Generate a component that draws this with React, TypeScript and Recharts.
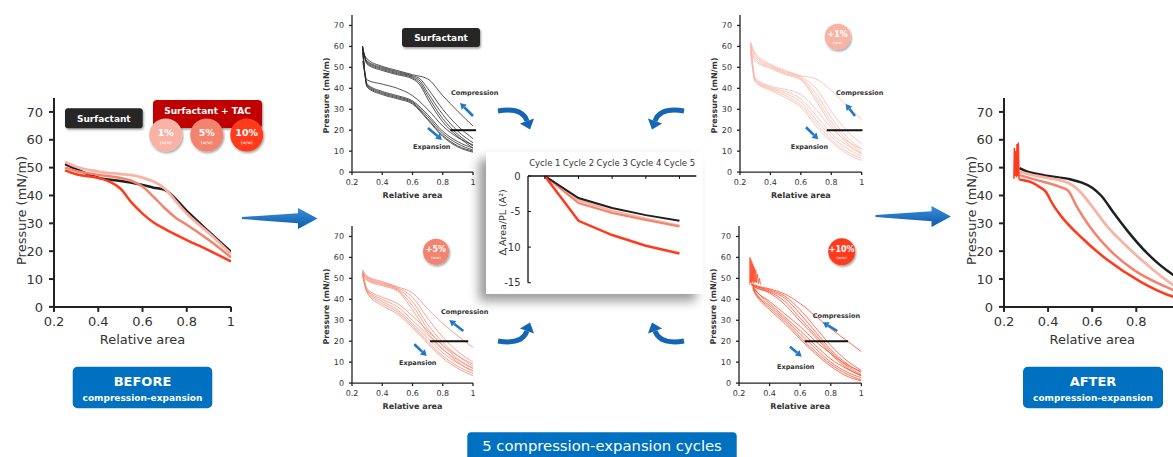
import React from 'react';
import { LineChart, Line, XAxis, YAxis, ReferenceLine, Label } from 'recharts';

type Pt = [number, number];

// ── colours ───────────────────────────────────────────────────────────────────
const C_SURF = '#1f1f1f';
const C_TAC1 = '#F8B3A5';
const C_TAC5 = '#F3836E';
const C_TAC10 = '#FF3B1D';
const BLUE = '#0070C0';

// ── BEFORE compression-expansion (relative area, pressure mN/m) ─────────────
const surfBefore: Pt[] = [[0.25, 51.3], [0.3, 49.5], [0.35, 47.8], [0.4, 46.4], [0.5, 45.2], [0.6, 43.8], [0.65, 42.8], [0.7, 42], [0.8, 34.5], [0.9, 27], [1, 19.8]];
const tac1Before: Pt[] = [[0.25, 52], [0.3, 50.3], [0.4, 48.6], [0.5, 47.7], [0.55, 47.3], [0.6, 46.4], [0.65, 45], [0.7, 42.5], [0.75, 38], [0.8, 33.5], [0.9, 26.5], [1, 19]];
const tac5Before: Pt[] = [[0.25, 50], [0.3, 48.8], [0.4, 47.4], [0.5, 46.3], [0.55, 45.3], [0.6, 43.2], [0.65, 39.5], [0.7, 35.5], [0.75, 32], [0.8, 29.5], [0.9, 24], [1, 17.8]];
const tac10Before: Pt[] = [[0.25, 49], [0.3, 47.6], [0.4, 46.3], [0.45, 45], [0.5, 42.5], [0.55, 37.5], [0.6, 33.5], [0.65, 30.3], [0.7, 28], [0.8, 24], [0.9, 20.3], [1, 16.3]];

// ── AFTER compression-expansion ──────────────────────────────────────────────
const surfAfter: Pt[] = [[0.27, 49.8], [0.3, 48.7], [0.38, 47.3], [0.5, 45.8], [0.55, 44.7], [0.6, 42.8], [0.64, 40], [0.7, 33.5], [0.76, 27.3], [0.85, 19.2], [0.97, 11.4], [1, 10]];
const tac1After: Pt[] = [[0.27, 48.5], [0.35, 47], [0.45, 45.5], [0.5, 44.2], [0.53, 42.5], [0.56, 40], [0.6, 36], [0.67, 28.7], [0.76, 21.5], [0.86, 14.4], [0.97, 7.8], [1, 6.5]];
const tac5After: Pt[] = [[0.27, 47.3], [0.35, 45.5], [0.45, 43.2], [0.49, 41.8], [0.53, 36], [0.59, 28.7], [0.68, 20.4], [0.79, 13.2], [0.9, 8.4], [1, 5]];
const tac10After: Pt[] = [[0.27, 45.7], [0.33, 44.5], [0.36, 43.1], [0.39, 41.3], [0.42, 37], [0.46, 32.5], [0.55, 25], [0.67, 16.8], [0.82, 9], [0.97, 3.6], [1, 3]];
const tac10AfterSpike: Pt[] = [[0.245, 46], [0.247, 57], [0.25, 47], [0.253, 56], [0.256, 46.5], [0.259, 58.5], [0.262, 47], [0.265, 59], [0.268, 46], [0.27, 45.7]];

// ── 5 cycles, compression (C) and expansion (E) branches ─────────────────────
const surfLoops: Pt[][] = [
  [[0.27, 58], [0.3, 54], [0.4, 50.5], [0.5, 48.5], [0.6, 46.5], [0.7, 44.5], [0.8, 36.5], [0.9, 29], [1, 22]],
  [[0.27, 57], [0.3, 53], [0.4, 50], [0.5, 48], [0.6, 46], [0.65, 44.5], [0.7, 40], [0.8, 30], [0.9, 22], [1, 16]],
  [[0.27, 59], [0.3, 52.5], [0.4, 49.5], [0.5, 47.5], [0.6, 45.5], [0.65, 43.5], [0.7, 38], [0.8, 27.5], [0.9, 19.5], [1, 14]],
  [[0.27, 60], [0.3, 52], [0.4, 49], [0.5, 47], [0.6, 45], [0.65, 42.5], [0.7, 36.5], [0.8, 25.5], [0.9, 18], [1, 12.5]],
  [[0.27, 60], [0.3, 51.5], [0.4, 48.5], [0.5, 46.5], [0.6, 44.5], [0.65, 41.5], [0.7, 35], [0.8, 24], [0.9, 17], [1, 11.5]],
  [[0.27, 53], [0.3, 44], [0.4, 42], [0.5, 40], [0.6, 36.5], [0.7, 30], [0.8, 22], [0.9, 16.5], [1, 13]],
  [[0.27, 57], [0.3, 42], [0.4, 38.5], [0.5, 36.5], [0.6, 34], [0.7, 27.5], [0.8, 19.5], [0.9, 14.5], [1, 11.5]],
  [[0.27, 59], [0.3, 41.5], [0.4, 38], [0.5, 36], [0.6, 33.5], [0.7, 26.5], [0.8, 18.5], [0.9, 13.5], [1, 10.5]],
  [[0.27, 60], [0.3, 41], [0.4, 37.5], [0.5, 35.5], [0.6, 33], [0.7, 25.5], [0.8, 17.5], [0.9, 12.5], [1, 10]],
  [[0.27, 60], [0.3, 40.5], [0.4, 37], [0.5, 35], [0.6, 32.5], [0.7, 25], [0.8, 17], [0.9, 12], [1, 9.5]],
];

const tac1Loops: Pt[][] = [
  [[0.27, 62], [0.3, 57], [0.4, 51.5], [0.5, 48.5], [0.6, 46], [0.7, 44.5], [0.8, 39], [0.9, 32], [1, 25]],
  [[0.27, 61], [0.3, 56], [0.4, 51], [0.5, 48], [0.6, 45.5], [0.7, 40], [0.8, 29], [0.9, 20], [1, 13.5]],
  [[0.27, 60], [0.3, 55], [0.4, 50.5], [0.5, 47.5], [0.6, 45], [0.7, 37.5], [0.8, 26], [0.9, 17], [1, 11]],
  [[0.27, 58], [0.3, 54], [0.4, 50], [0.5, 47], [0.6, 44.5], [0.7, 35.5], [0.8, 24], [0.9, 15.5], [1, 9.5]],
  [[0.27, 57], [0.3, 53], [0.4, 49.5], [0.5, 46.5], [0.6, 44], [0.7, 34], [0.8, 22.5], [0.9, 14], [1, 8.5]],
  [[0.27, 62], [0.3, 45], [0.4, 41], [0.5, 39.5], [0.6, 37], [0.7, 30], [0.8, 21], [0.9, 15], [1, 11]],
  [[0.27, 61], [0.3, 44.5], [0.4, 40.5], [0.5, 38.5], [0.6, 35], [0.7, 27], [0.8, 18.5], [0.9, 13], [1, 9]],
  [[0.27, 60], [0.3, 44], [0.4, 40], [0.5, 37.5], [0.6, 33.5], [0.7, 25], [0.8, 17], [0.9, 11.5], [1, 7.5]],
  [[0.27, 58], [0.3, 43.5], [0.4, 39.5], [0.5, 36.5], [0.6, 32], [0.7, 23.5], [0.8, 15.5], [0.9, 10], [1, 6.5]],
  [[0.27, 57], [0.3, 43], [0.4, 39], [0.5, 35.5], [0.6, 31], [0.7, 22], [0.8, 14.5], [0.9, 9], [1, 5.5]],
];

const tac5Loops: Pt[][] = [
  [[0.27, 54], [0.3, 51], [0.4, 48.5], [0.5, 46], [0.6, 43], [0.7, 35.5], [0.8, 28.5], [0.9, 22.5], [1, 17]],
  [[0.27, 53], [0.3, 50.5], [0.4, 48], [0.5, 45.5], [0.6, 41], [0.7, 31], [0.8, 22], [0.9, 15], [1, 10]],
  [[0.27, 52.5], [0.3, 50], [0.4, 47.5], [0.5, 45], [0.6, 39], [0.7, 28], [0.8, 19.5], [0.9, 13], [1, 8]],
  [[0.27, 52], [0.3, 49.5], [0.4, 47], [0.5, 44.5], [0.6, 37], [0.7, 26], [0.8, 18], [0.9, 11.5], [1, 7]],
  [[0.27, 51.5], [0.3, 49], [0.4, 46.5], [0.5, 44], [0.6, 35], [0.7, 24], [0.8, 16.5], [0.9, 10], [1, 6]],
  [[0.27, 54], [0.3, 45], [0.4, 41], [0.5, 38], [0.6, 32], [0.7, 25], [0.8, 18], [0.9, 13], [1, 9]],
  [[0.27, 53], [0.3, 44.5], [0.4, 40], [0.5, 36.5], [0.6, 30], [0.7, 23], [0.8, 16], [0.9, 11], [1, 7]],
  [[0.27, 52.5], [0.3, 44], [0.4, 39], [0.5, 35], [0.6, 28.5], [0.7, 21.5], [0.8, 14.5], [0.9, 9.5], [1, 5.5]],
  [[0.27, 52], [0.3, 43.5], [0.4, 38], [0.5, 34], [0.6, 27.5], [0.7, 20], [0.8, 13], [0.9, 8], [1, 4.5]],
  [[0.27, 51.5], [0.3, 43], [0.4, 37], [0.5, 33], [0.6, 26.5], [0.7, 19], [0.8, 12], [0.9, 7], [1, 3.5]],
];

const tac10Loops: Pt[][] = [
  [[0.28, 48], [0.3, 47], [0.4, 45], [0.5, 42.5], [0.6, 38], [0.7, 32], [0.8, 26], [0.9, 20.5], [1, 15]],
  [[0.28, 47.5], [0.3, 46.5], [0.4, 44.5], [0.5, 41.5], [0.6, 35], [0.7, 26.5], [0.8, 18], [0.9, 11], [1, 6]],
  [[0.28, 47], [0.3, 46.5], [0.4, 44], [0.5, 40.5], [0.6, 33], [0.7, 24.5], [0.8, 16], [0.9, 9.5], [1, 5]],
  [[0.28, 47], [0.3, 46], [0.4, 43.5], [0.5, 39], [0.6, 31], [0.7, 23], [0.8, 15], [0.9, 8.5], [1, 4]],
  [[0.28, 47], [0.3, 46], [0.4, 43], [0.5, 37.5], [0.6, 29.5], [0.7, 22], [0.8, 14], [0.9, 7.5], [1, 3.5]],
  [[0.29, 47], [0.3, 45.5], [0.4, 39], [0.5, 33], [0.6, 27], [0.7, 20], [0.8, 14], [0.9, 9], [1, 5.5]],
  [[0.29, 46], [0.3, 45], [0.4, 38], [0.5, 31.5], [0.6, 25], [0.7, 18], [0.8, 11.5], [0.9, 7], [1, 3.5]],
  [[0.29, 46], [0.3, 44.5], [0.4, 37], [0.5, 30.5], [0.6, 23.5], [0.7, 16.5], [0.8, 10], [0.9, 5.5], [1, 2.5]],
  [[0.29, 45.5], [0.3, 44], [0.4, 36], [0.5, 29.5], [0.6, 22], [0.7, 15], [0.8, 9], [0.9, 4.5], [1, 1.5]],
  [[0.29, 45], [0.3, 43.5], [0.4, 35], [0.5, 28.5], [0.6, 21], [0.7, 14], [0.8, 8], [0.9, 3.5], [1, 1]],
];
const tac10Spike: Pt[] = [[0.27, 47], [0.272, 60], [0.275, 48], [0.278, 59], [0.281, 48], [0.284, 58], [0.287, 48.5], [0.29, 57], [0.293, 48], [0.296, 56], [0.299, 48], [0.302, 55], [0.306, 48], [0.31, 54], [0.315, 48], [0.32, 52], [0.327, 47.5], [0.335, 50], [0.34, 47]];

// ── Δ area per lipid over the cycles ─────────────────────────────────────────
const CYCLES = ['Cycle 1', 'Cycle 2', 'Cycle 3', 'Cycle 4', 'Cycle 5'];
const surfDelta = [0, -3.1, -4.5, -5.5, -6.3];
const tac1Delta = [0, -3.4, -4.9, -6.0, -7.0];
const tac5Delta = [0, -3.8, -5.2, -6.2, -7.1];
const tac10Delta = [0, -6.3, -8.3, -9.8, -10.9];

const X_TICKS = [0.2, 0.4, 0.6, 0.8, 1];
const X_TICKS_CUT = [0.2, 0.4, 0.6, 0.8]; // the AFTER panel runs past the page edge
const Y_TICKS = [0, 10, 20, 30, 40, 50, 60, 70];
const D_TICKS = [0, -5, -10, -15];

const toRows = (p: Pt[]) => [...p].sort((a, b) => a[0] - b[0]).map(([x, y]) => ({ x, y }));

interface Series { data: Pt[]; color: string; width: number; linear?: boolean }

// box = [x at 0.2, y at 75, x at 1, y at 0] in page pixels
const PressurePanel: React.FC<{ box: number[]; series: Series[]; big?: boolean; bar?: [number, number]; xTicks?: number[] }> = ({ box, series, big, bar, xTicks = X_TICKS }) => {
  const [x0, y0, x1, y1] = box;
  const YW = 60, XH = 60, TOP = 10, RIGHT = 20;
  const fs = big ? 13 : 8;
  const axis = { stroke: '#222', strokeWidth: big ? 2 : 1.3 };
  return (
    <div style={{ position: 'absolute', left: x0 - YW, top: y0 - TOP }}>
      <LineChart width={x1 - x0 + YW + RIGHT} height={y1 - y0 + TOP + XH}
        margin={{ top: TOP, right: RIGHT, bottom: 0, left: 0 }}>
        <XAxis type="number" dataKey="x" domain={[0.2, 1]} ticks={xTicks} allowDataOverflow height={XH}
          axisLine={axis} tickLine={axis} tickSize={big ? 5 : 3} tickMargin={big ? 5 : 4}
          tick={{ fill: '#333', fontSize: fs }}>
          <Label value="Relative area" position="insideBottom" offset={big ? 23 : 34}
            fill="#333" fontSize={big ? 13 : 8} fontWeight={big ? 'normal' : 'bold'} />
        </XAxis>
        <YAxis type="number" domain={[0, 75]} ticks={Y_TICKS} allowDataOverflow width={YW}
          axisLine={axis} tickLine={axis} tickSize={big ? 5 : 3} tickMargin={big ? 6 : 5}
          tick={{ fill: '#333', fontSize: fs }}>
          <Label value="Pressure (mN/m)" angle={-90} position="insideLeft" offset={big ? 27 : 34} dy={big ? 8 : 2}
            fill="#333" fontSize={big ? 13 : 8} fontWeight={big ? 'normal' : 'bold'} style={{ textAnchor: 'middle' }} />
        </YAxis>
        {series.map((s, i) => (
          <Line key={i} data={toRows(s.data)} dataKey="y" type={s.linear ? 'linear' : 'monotone'}
            stroke={s.color} strokeWidth={s.width} dot={false} activeDot={false} isAnimationActive={false} />
        ))}
        {bar && (
          <ReferenceLine segment={[{ x: bar[0], y: 20 }, { x: bar[1], y: 20 }]} stroke="#111" strokeWidth={2} ifOverflow="visible" />
        )}
      </LineChart>
    </div>
  );
};

const loopSeries = (loops: Pt[][], color: string): Series[] => loops.map(d => ({ data: d, color, width: 0.8 }));

const DeltaChart = () => {
  const rows = CYCLES.map((_, i) => ({ n: i + 1, surf: surfDelta[i], tac1: tac1Delta[i], tac5: tac5Delta[i], tac10: tac10Delta[i] }));
  const x0 = 527.7, x1 = 696, y0 = 176, y1 = 282.7;
  return (
    <div style={{ position: 'absolute', left: x0 - 40, top: y0 - 30 }}>
      <LineChart width={x1 - x0 + 50} height={y1 - y0 + 40} data={rows} margin={{ top: 0, right: 10, bottom: 10, left: 0 }}>
        <XAxis type="number" dataKey="n" orientation="top" domain={[0.5, 5.5]} ticks={[1, 2, 3, 4, 5]} height={30}
          tickFormatter={(v: number) => CYCLES[v - 1]} axisLine={{ stroke: '#111', strokeWidth: 1.3 }}
          tickLine={{ stroke: '#111' }} tickSize={-3} tickMargin={13} tick={{ fill: '#333', fontSize: 8.5 }} interval={0} />
        <YAxis type="number" domain={[-15, 0]} ticks={D_TICKS} width={40} axisLine={{ stroke: '#111', strokeWidth: 1.3 }}
          tickLine={{ stroke: '#111' }} tickSize={-3} tickMargin={10.5} tick={{ fill: '#333', fontSize: 10 }}>
          <Label value="Δ Area/PL (A²)" angle={-90} position="insideLeft" offset={15} dy={-7}
            fill="#333" fontSize={9.5} style={{ textAnchor: 'middle' }} />
        </YAxis>
        <Line dataKey="tac1" stroke={C_TAC1} strokeWidth={2.5} dot={false} isAnimationActive={false} />
        <Line dataKey="tac5" stroke={C_TAC5} strokeWidth={2} dot={false} isAnimationActive={false} />
        <Line dataKey="surf" stroke={C_SURF} strokeWidth={2} dot={false} isAnimationActive={false} />
        <Line dataKey="tac10" stroke={C_TAC10} strokeWidth={2.5} dot={false} isAnimationActive={false} />
      </LineChart>
    </div>
  );
};

// ── decorations ───────────────────────────────────────────────────────────────
const head = (cx: number, cy: number, ex: number, ey: number, len: number, half: number) => {
  const d = Math.hypot(ex - cx, ey - cy);
  const ux = (ex - cx) / d, uy = (ey - cy) / d;
  return `${ex + ux * len},${ey + uy * len} ${ex - uy * half},${ey + ux * half} ${ex + uy * half},${ey - ux * half}`;
};

const CurvedArrow = ({ s, c, e }: { s: number[]; c: number[]; e: number[] }) => (
  <g>
    <path d={`M${s[0]},${s[1]} Q${c[0]},${c[1]} ${e[0]},${e[1]}`} stroke="#1565B5" strokeWidth={5} fill="none" />
    <polygon points={head(c[0], c[1], e[0], e[1], 9, 7.5)} fill="#1565B5" />
  </g>
);

const SmallArrow = ({ t, p }: { t: number[]; p: number[] }) => {
  const d = Math.hypot(p[0] - t[0], p[1] - t[1]);
  const ex = p[0] - (p[0] - t[0]) / d * 6, ey = p[1] - (p[1] - t[1]) / d * 6;
  return (
    <g>
      <line x1={t[0]} y1={t[1]} x2={ex} y2={ey} stroke="#1F78C8" strokeWidth={2.6} />
      <polygon points={head(t[0], t[1], ex, ey, 6, 3.6)} fill="#1F78C8" />
    </g>
  );
};

const BigArrow = ({ dx, dy }: { dx: number; dy: number }) => {
  const pts = [[242, 217], [298, 213.3], [298, 208], [317.5, 218.5], [298, 229], [298, 223.3], [242, 219]];
  return <polygon points={pts.map(([x, y]) => `${x + dx},${y + dy}`).join(' ')} fill="url(#bigArrowGrad)" />;
};

const Note = ({ x, y, text }: { x: number; y: number; text: string }) => (
  <text x={x} y={y} fontSize={6.5} fontWeight="bold" fill="#333" dominantBaseline="central">{text}</text>
);

const Dose = ({ cx, cy, r, fill, pct, fs }: { cx: number; cy: number; r: number; fill: string; pct: string; fs: number }) => (
  <g>
    <circle cx={cx} cy={cy} r={r} fill={fill} filter="url(#sh)" />
    <text x={cx} y={cy - r * 0.18} textAnchor="middle" dominantBaseline="central" fill="#fff" fontSize={fs} fontWeight="bold">{pct}</text>
    <text x={cx} y={cy + r * 0.45} textAnchor="middle" dominantBaseline="central" fill="#fff" fontSize={fs * 0.45}>(w/w)</text>
  </g>
);

const Overlay = () => (
  <svg width={1173} height={457} style={{ position: 'absolute', left: 0, top: 0, pointerEvents: 'none' }}>
    <defs>
      <filter id="sh" x="-40%" y="-40%" width="180%" height="180%">
        <feDropShadow dx="1" dy="1.5" stdDeviation="1.3" floodOpacity="0.4" />
      </filter>
      <linearGradient id="bigArrowGrad" x1="0" y1="0" x2="0" y2="1">
        <stop offset="0" stopColor="#3b8ddb" />
        <stop offset="1" stopColor="#0b5aa8" />
      </linearGradient>
    </defs>

    <BigArrow dx={0} dy={0} />
    <BigArrow dx={633.5} dy={-2} />

    <CurvedArrow s={[498, 111]} c={[522, 107]} e={[527, 121]} />
    <CurvedArrow s={[684, 111]} c={[660, 107]} e={[655, 121]} />
    <CurvedArrow s={[498, 341]} c={[522, 345]} e={[527, 331]} />
    <CurvedArrow s={[684, 341]} c={[660, 345]} e={[655, 331]} />

    {/* compression / expansion hints */}
    <Note x={451} y={93} text="Compression" />
    <Note x={413} y={147} text="Expansion" />
    <SmallArrow t={[473, 116]} p={[460, 103]} />
    <SmallArrow t={[428, 128]} p={[442, 140]} />

    <Note x={441} y={311.7} text="Compression" />
    <Note x={399} y={362.7} text="Expansion" />
    <SmallArrow t={[463.3, 331]} p={[449.3, 320]} />
    <SmallArrow t={[414.3, 344.3]} p={[426.7, 356]} />

    <Note x={836} y={92.7} text="Compression" />
    <Note x={790.7} y={146.7} text="Expansion" />
    <SmallArrow t={[855, 116]} p={[845.7, 104]} />
    <SmallArrow t={[806, 127.3]} p={[818.3, 139.3]} />

    <Note x={812.7} y={315.7} text="Compression" />
    <Note x={777} y={366.7} text="Expansion" />
    <SmallArrow t={[837.3, 331]} p={[822.7, 322.3]} />
    <SmallArrow t={[790, 346.7]} p={[801.7, 356.7]} />

    {/* legend badges, BEFORE panel */}
    <rect x={65} y={108.3} width={77.7} height={20} rx={3} fill="#262626" filter="url(#sh)" />
    <text x={103.8} y={118.5} textAnchor="middle" dominantBaseline="central" fill="#fff" fontSize={9} fontWeight="bold">Surfactant</text>
    <rect x={153} y={100} width={109} height={28} rx={4} fill="#C00000" filter="url(#sh)" />
    <text x={207.5} y={110.7} textAnchor="middle" dominantBaseline="central" fill="#fff" fontSize={9} fontWeight="bold">Surfactant + TAC</text>
    <Dose cx={165.7} cy={135} r={16.5} fill={C_TAC1} pct="1%" fs={9.5} />
    <Dose cx={206.7} cy={135} r={16.5} fill={C_TAC5} pct="5%" fs={9.5} />
    <Dose cx={246.7} cy={135} r={16.5} fill={C_TAC10} pct="10%" fs={9.5} />

    {/* cycle panel badges */}
    <rect x={402} y={28} width={78} height={19} rx={3} fill="#262626" filter="url(#sh)" />
    <text x={441} y={37.5} textAnchor="middle" dominantBaseline="central" fill="#fff" fontSize={9} fontWeight="bold">Surfactant</text>
    <Dose cx={837.7} cy={36.7} r={13} fill={C_TAC1} pct="+1%" fs={8} />
    <Dose cx={436} cy={251.7} r={13} fill={C_TAC5} pct="+5%" fs={8} />
    <Dose cx={841.7} cy={251.7} r={13.5} fill={C_TAC10} pct="+10%" fs={8} />

    {/* captions */}
    <rect x={72.7} y={366.7} width={139.6} height={41.6} rx={5} fill={BLUE} />
    <text x={142.5} y={381.7} textAnchor="middle" dominantBaseline="central" fill="#fff" fontSize={13} fontWeight="bold">BEFORE</text>
    <text x={142.5} y={398.3} textAnchor="middle" dominantBaseline="central" fill="#fff" fontSize={9} fontWeight="bold">compression-expansion</text>

    <rect x={1023} y={366.7} width={140} height={41.6} rx={5} fill={BLUE} />
    <text x={1093} y={381.7} textAnchor="middle" dominantBaseline="central" fill="#fff" fontSize={13} fontWeight="bold">AFTER</text>
    <text x={1093} y={398.3} textAnchor="middle" dominantBaseline="central" fill="#fff" fontSize={9} fontWeight="bold">compression-expansion</text>

    <rect x={467.3} y={432.3} width={269.4} height={32} rx={4} fill={BLUE} />
    <text x={602} y={445.5} textAnchor="middle" dominantBaseline="central" fill="#fff" fontSize={14.8}>5 compression-expansion cycles</text>
  </svg>
);

export default function App() {
  return (
    <div style={{
      position: 'fixed', left: 0, top: 0, width: 1173, height: 457, overflow: 'hidden',
      background: '#fff', fontFamily: "'DejaVu Sans', Verdana, sans-serif",
    }}>
      <div style={{
        position: 'absolute', left: 486, top: 152, width: 217, height: 142, background: '#fff',
        boxShadow: '-7px 7px 10px rgba(0,0,0,0.4)',
      }} />

      <PressurePanel box={[54.3, 97.8, 231.3, 306.7]} big series={[
        { data: surfBefore, color: C_SURF, width: 2.5 },
        { data: tac1Before, color: C_TAC1, width: 2.8 },
        { data: tac5Before, color: C_TAC5, width: 2.5 },
        { data: tac10Before, color: C_TAC10, width: 2.5 },
      ]} />

      <PressurePanel box={[1003.7, 97.8, 1180.1, 306.7]} big xTicks={X_TICKS_CUT} series={[
        { data: surfAfter, color: C_SURF, width: 2.5 },
        { data: tac1After, color: C_TAC1, width: 2.8 },
        { data: tac5After, color: C_TAC5, width: 2.5 },
        { data: tac10After, color: C_TAC10, width: 2.5 },
        { data: tac10AfterSpike, color: C_TAC10, width: 1.5, linear: true },
      ]} />

      <PressurePanel box={[352.3, 14.6, 473.3, 171.7]} series={loopSeries(surfLoops, '#2a2a2a')} bar={[0.85, 1.02]} />
      <PressurePanel box={[352.3, 226.2, 473.3, 383.3]} series={loopSeries(tac5Loops, '#F28A76')} bar={[0.716, 0.969]} />
      <PressurePanel box={[740, 14.6, 861.7, 171.7]} series={loopSeries(tac1Loops, '#F8B8AB')} bar={[0.77, 1.005]} />
      <PressurePanel box={[739.3, 226.2, 861.7, 383.3]}
        series={[...loopSeries(tac10Loops, '#FF4A2A'), { data: tac10Spike, color: '#FF4A2A', width: 0.8, linear: true }]}
        bar={[0.63, 0.913]} />

      <DeltaChart />
      <Overlay />
    </div>
  );
}
